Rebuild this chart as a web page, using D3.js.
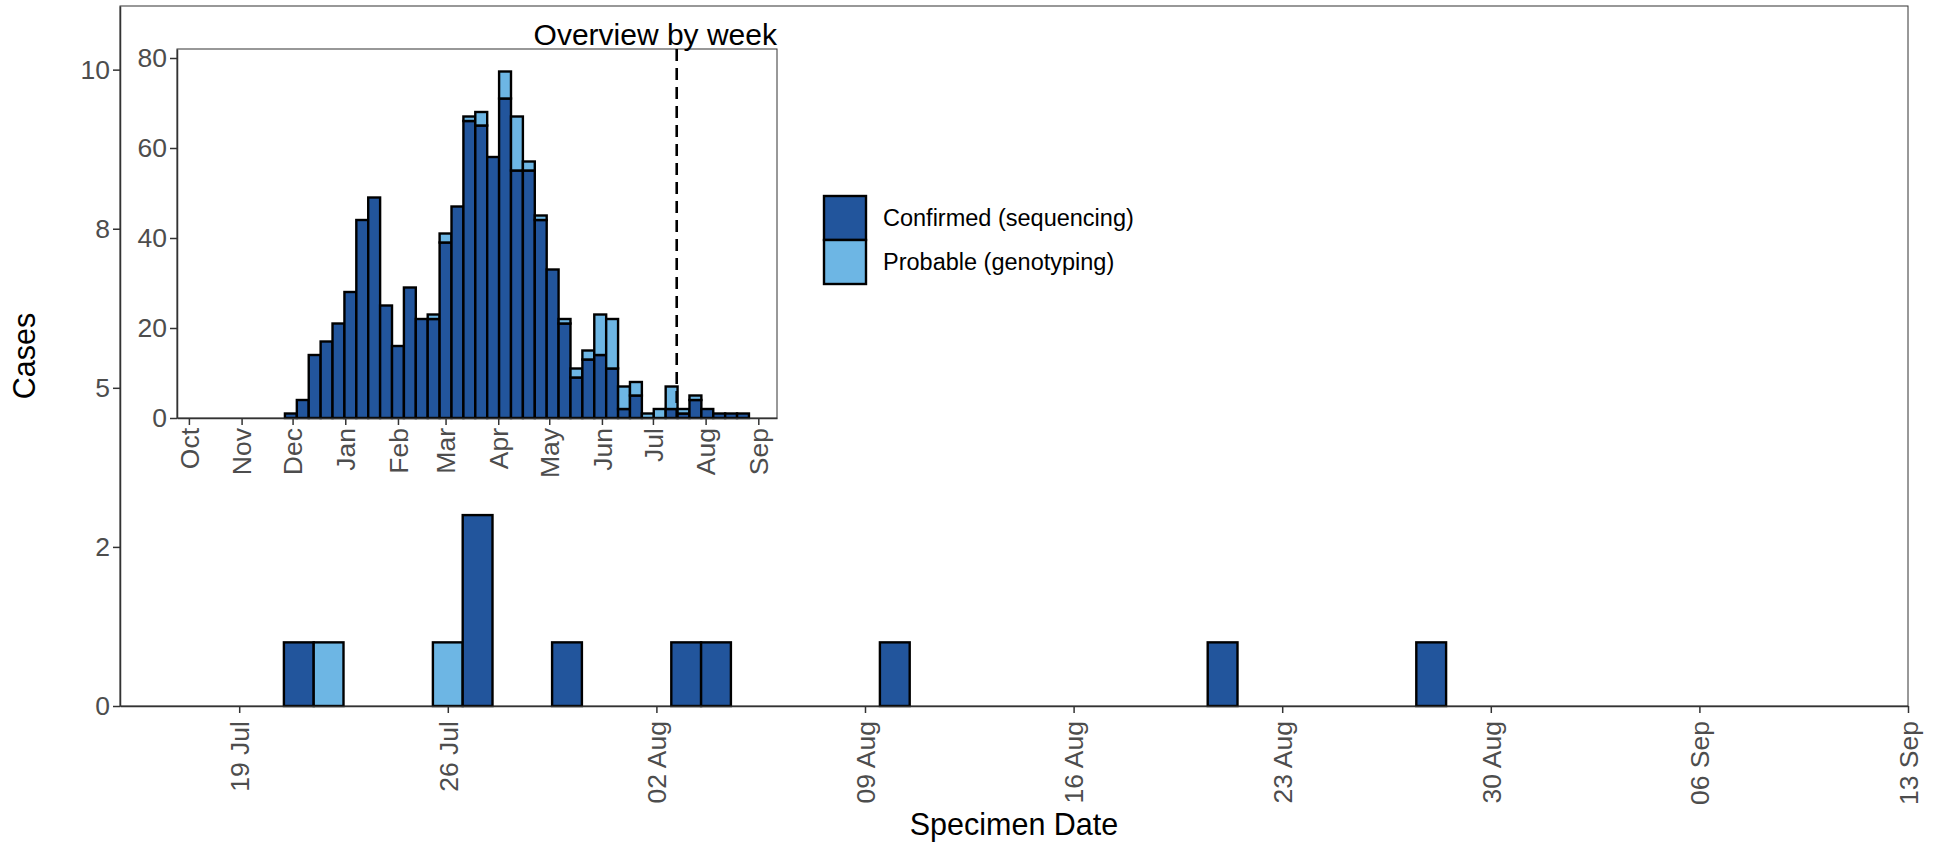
<!DOCTYPE html>
<html>
<head>
<meta charset="utf-8">
<script src="https://cdn.jsdelivr.net/npm/d3@7"></script>
<style>
html,body{margin:0;padding:0;background:#fff;}
svg{display:block;font-family:"Liberation Sans",Arial,sans-serif;}
</style>
</head>
<body>
<svg id="chart" width="1939" height="847"></svg>
<script>
// ---- Daily data (main panel) ----
const dailyDates = ["2021-07-21","2021-07-22","2021-07-26","2021-07-27","2021-07-30","2021-08-03","2021-08-04","2021-08-10","2021-08-21","2021-08-28"];
const dailyConfirmed = [1,0,0,3,1,1,1,1,1,1];
const dailyProbable  = [0,1,1,0,0,0,0,0,0,0];
const mainYTicks = [0,2.5,5,7.5,10];
const mainYTickLabels = ["0","2","5","8","10"];
const mainXTicks = ["2021-07-19","2021-07-26","2021-08-02","2021-08-09","2021-08-16","2021-08-23","2021-08-30","2021-09-06","2021-09-13"];

// ---- Weekly data (inset) ----
const weekStarts = ["2020-11-30","2020-12-07","2020-12-14","2020-12-21","2020-12-28",
 "2021-01-04","2021-01-11","2021-01-18","2021-01-25","2021-02-01","2021-02-08","2021-02-15","2021-02-22",
 "2021-03-01","2021-03-08","2021-03-15","2021-03-22","2021-03-29","2021-04-05","2021-04-12","2021-04-19","2021-04-26",
 "2021-05-03","2021-05-10","2021-05-17","2021-05-24","2021-05-31","2021-06-07","2021-06-14","2021-06-21","2021-06-28",
 "2021-07-05","2021-07-12","2021-07-19","2021-07-26","2021-08-02","2021-08-09","2021-08-16","2021-08-23"];
const weeklyConfirmed = [1,4,14,17,21,28,44,49,25,16,29,22,22,39,47,66,65,58,71,55,55,44,33,21,9,13,14,11,2,5,0,0,2,1,4,2,1,1,1];
const weeklyProbable  = [0,0,0,0,0,0,0,0,0,0,0,0,1,2,0,1,3,0,6,12,2,1,0,1,2,2,9,11,5,3,1,2,5,1,1,0,0,0,0];
const insetYTicks = [0,20,40,60,80];
const insetMonthTicks = ["2020-10-01","2020-11-01","2020-12-01","2021-01-01","2021-02-01","2021-03-01","2021-04-01","2021-05-01","2021-06-01","2021-07-01","2021-08-01","2021-09-01"];
const cutoffDate = "2021-07-15";

const seriesNames = ["Confirmed (sequencing)","Probable (genotyping)"];
const colors = {"Confirmed (sequencing)":"#22559c","Probable (genotyping)":"#6db6e4"};

const parse = d3.utcParse("%Y-%m-%d");
const svg = d3.select("#chart");
const axisCol = "#333333", tickTextCol = "#4d4d4d";
const tickFont = 26.5, titleFont = 30.5;

// ---------- MAIN PANEL ----------
const M = {left:120, right:1908, top:6, bottom:706};
const x = d3.scaleUtc().domain([parse("2021-07-15"), parse("2021-09-13")]).range([M.left, M.right]);
const y = d3.scaleLinear().domain([0,11]).range([M.bottom, M.top]);

svg.append("rect").attr("x",M.left).attr("y",M.top).attr("width",M.right-M.left).attr("height",M.bottom-M.top)
  .attr("fill","none").attr("stroke",axisCol).attr("stroke-width",1);

const dayData = dailyDates.map((d,i)=>({date:parse(d), c:dailyConfirmed[i], p:dailyProbable[i]}));
const barsG = svg.append("g");
dayData.forEach(d=>{
  const x0 = x(d3.utcHour.offset(d.date,-12)), x1 = x(d3.utcHour.offset(d.date,12));
  const segs = [[0,d.c,seriesNames[0]],[d.c,d.c+d.p,seriesNames[1]]];
  segs.forEach(([a,b,n])=>{
    if(b>a) barsG.append("rect").attr("x",x0).attr("width",x1-x0).attr("y",y(b)).attr("height",y(a)-y(b))
      .attr("fill",colors[n]).attr("stroke","#000").attr("stroke-width",2.4);
  });
});

const xAxis = d3.axisBottom(x).tickValues(mainXTicks.map(parse)).tickFormat(d3.utcFormat("%d %b")).tickSize(7).tickSizeOuter(0);
const gx = svg.append("g").attr("transform",`translate(0,${M.bottom})`).call(xAxis);
gx.select(".domain").attr("stroke",axisCol).attr("stroke-width",1.5);
gx.selectAll(".tick line").attr("stroke",axisCol).attr("stroke-width",1.5);
gx.selectAll(".tick text").attr("fill",tickTextCol).attr("font-size",tickFont)
  .attr("transform","rotate(-90)").attr("text-anchor","end").attr("x",-15).attr("y",0).attr("dy","0.35em");

const yAxis = d3.axisLeft(y).tickValues(mainYTicks).tickFormat((d,i)=>mainYTickLabels[i]).tickSize(7).tickSizeOuter(0);
const gy = svg.append("g").attr("transform",`translate(${M.left},0)`).call(yAxis);
gy.select(".domain").attr("stroke",axisCol).attr("stroke-width",1.5);
gy.selectAll(".tick line").attr("stroke",axisCol).attr("stroke-width",1.5);
gy.selectAll(".tick text").attr("fill",tickTextCol).attr("font-size",tickFont).attr("x",-10);

svg.append("text").attr("x",(M.left+M.right)/2).attr("y",835).attr("text-anchor","middle")
  .attr("font-size",titleFont).attr("fill","#000").text("Specimen Date");
svg.append("text").attr("transform",`translate(35,${(M.top+M.bottom)/2}) rotate(-90)`).attr("text-anchor","middle")
  .attr("font-size",titleFont).attr("fill","#000").text("Cases");

// ---------- INSET ----------
const I = {left:177, right:777, top:49, bottom:418};
const xi = d3.scaleUtc().domain([parse("2020-09-24"), parse("2021-09-12")]).range([I.left, I.right]);
const yi = d3.scaleLinear().domain([0,82]).range([I.bottom, I.top]);

svg.append("rect").attr("x",I.left).attr("y",I.top).attr("width",I.right-I.left).attr("height",I.bottom-I.top)
  .attr("fill","#fff").attr("stroke",axisCol).attr("stroke-width",1);

const weekData = weekStarts.map((d,i)=>({date:parse(d), c:weeklyConfirmed[i], p:weeklyProbable[i]}));
const ig = svg.append("g");
weekData.forEach(d=>{
  const x0 = xi(d3.utcHour.offset(d.date,-84)), x1 = xi(d3.utcHour.offset(d.date,84));
  const segs = [[0,d.c,seriesNames[0]],[d.c,d.c+d.p,seriesNames[1]]];
  segs.forEach(([a,b,n])=>{
    if(b>a) ig.append("rect").attr("x",x0).attr("width",x1-x0).attr("y",yi(b)).attr("height",yi(a)-yi(b))
      .attr("fill",colors[n]).attr("stroke","#000").attr("stroke-width",2.4);
  });
});

svg.append("line").attr("x1",xi(parse(cutoffDate))).attr("x2",xi(parse(cutoffDate)))
  .attr("y1",I.top).attr("y2",I.bottom).attr("stroke","#000").attr("stroke-width",2.6).attr("stroke-dasharray","12,7");

const xiAxis = d3.axisBottom(xi).tickValues(insetMonthTicks.map(parse)).tickFormat(d3.utcFormat("%b")).tickSize(7).tickSizeOuter(0);
const gxi = svg.append("g").attr("transform",`translate(0,${I.bottom})`).call(xiAxis);
gxi.select(".domain").attr("stroke",axisCol).attr("stroke-width",1.5);
gxi.selectAll(".tick line").attr("stroke",axisCol).attr("stroke-width",1.5);
gxi.selectAll(".tick text").attr("fill",tickTextCol).attr("font-size",tickFont)
  .attr("transform","rotate(-90)").attr("text-anchor","end").attr("x",-10).attr("y",0).attr("dy","0.35em");

const yiAxis = d3.axisLeft(yi).tickValues(insetYTicks).tickSize(7).tickSizeOuter(0);
const gyi = svg.append("g").attr("transform",`translate(${I.left},0)`).call(yiAxis);
gyi.select(".domain").attr("stroke",axisCol).attr("stroke-width",1.5);
gyi.selectAll(".tick line").attr("stroke",axisCol).attr("stroke-width",1.5);
gyi.selectAll(".tick text").attr("fill",tickTextCol).attr("font-size",tickFont).attr("x",-10);

svg.append("text").attr("x",I.right).attr("y",45).attr("text-anchor","end")
  .attr("font-size",titleFont-0.5).attr("fill","#000").text("Overview by week");

// ---------- LEGEND ----------
const lg = svg.append("g").attr("transform","translate(824,196)");
seriesNames.forEach((n,i)=>{
  lg.append("rect").attr("x",0).attr("y",i*44).attr("width",42).attr("height",44)
    .attr("fill",colors[n]).attr("stroke","#000").attr("stroke-width",2.4);
  lg.append("text").attr("x",59).attr("y",i*44+22).attr("dy","0.35em")
    .attr("font-size",23.5).attr("fill","#000").text(n);
});
</script>
</body>
</html>
